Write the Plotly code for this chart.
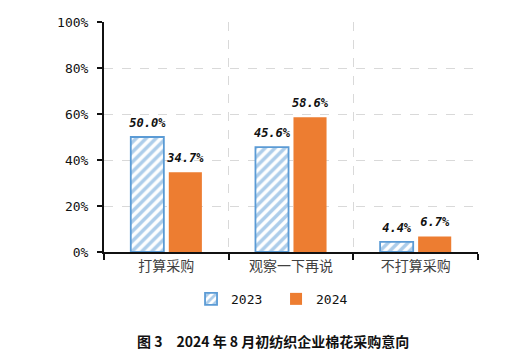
import plotly.graph_objects as go

categories = ["打算采购", "观察一下再说", "不打算采购"]
series_names = ["2023", "2024"]
values_2023 = [50.0, 45.6, 4.4]
values_2024 = [34.7, 58.6, 6.7]
y_ticks = [0, 20, 40, 60, 80, 100]
y_tick_labels = ["0%", "20%", "40%", "60%", "80%", "100%"]
title_text = "图 3　2024 年 8 月初纺织企业棉花采购意向"

mono = "DejaVu Sans Mono"
label_font = dict(family=mono, size=12, color="#111111")
label_tpl = "<b><i>%{y:.1f}%</i></b>"
bar_gap = 0.39

fig = go.Figure()
fig.add_trace(go.Bar(
    x=categories, y=values_2023, name=series_names[0], offsetgroup="a",
    marker=dict(color="white", line=dict(color="#5B9BD5", width=1.8),
                pattern=dict(shape="/", fgcolor="#5B9BD5", bgcolor="white", size=7, solidity=0.5)),
))
fig.add_trace(go.Bar(
    x=categories, y=values_2024, name=series_names[1], offsetgroup="b",
    marker=dict(color="#ED7D31", line=dict(color="#ED7D31", width=0)),
))
for vals, grp in [(values_2023, "a"), (values_2024, "b")]:
    fig.add_trace(go.Scatter(
        x=categories, y=vals, offsetgroup=grp, mode="markers+text",
        marker=dict(size=10, opacity=0), texttemplate=label_tpl,
        textposition="top center", textfont=label_font,
        showlegend=False, hoverinfo="skip", cliponaxis=False,
    ))

fig.update_layout(
    width=524, height=349,
    margin=dict(l=96, r=54, t=14, b=105, autoexpand=False),
    paper_bgcolor="white", plot_bgcolor="white",
    barmode="group", bargap=bar_gap, bargroupgap=0.13,
    scattermode="group", scattergap=bar_gap,
    showlegend=True,
    legend=dict(orientation="h", x=0.46, xanchor="center", y=-0.204, yanchor="middle",
                font=dict(family=mono, size=13, color="#111111"),
                itemwidth=30, entrywidth=40, tracegroupgap=0),
    annotations=[dict(text="<b>" + title_text + "</b>", x=0.452, y=-0.387,
                      xref="paper", yref="paper", showarrow=False,
                      xanchor="center", yanchor="middle",
                      font=dict(family="Noto Sans CJK SC", size=14, color="#111111"))],
)
fig.update_yaxes(
    range=[0, 100], tickvals=y_ticks, ticktext=y_tick_labels,
    showline=True, linecolor="#111111", linewidth=2,
    ticks="outside", ticklen=5, tickcolor="#111111", tickwidth=2,
    ticklabelstandoff=6, automargin=False,
    showgrid=True, gridcolor="#D9D9D9", griddash="dash", gridwidth=1,
    tickfont=dict(family=mono, size=13, color="#111111"),
    zeroline=False,
)
fig.update_xaxes(
    type="category", tickson="boundaries", automargin=False,
    showline=True, linecolor="#111111", linewidth=2,
    ticks="outside", ticklen=6, tickcolor="#111111", tickwidth=2,
    showgrid=True, gridcolor="#D9D9D9", griddash="dash", gridwidth=1,
    tickfont=dict(family="Noto Sans CJK SC", size=14, color="#404040"),
)
fig.write_html("out.html")
